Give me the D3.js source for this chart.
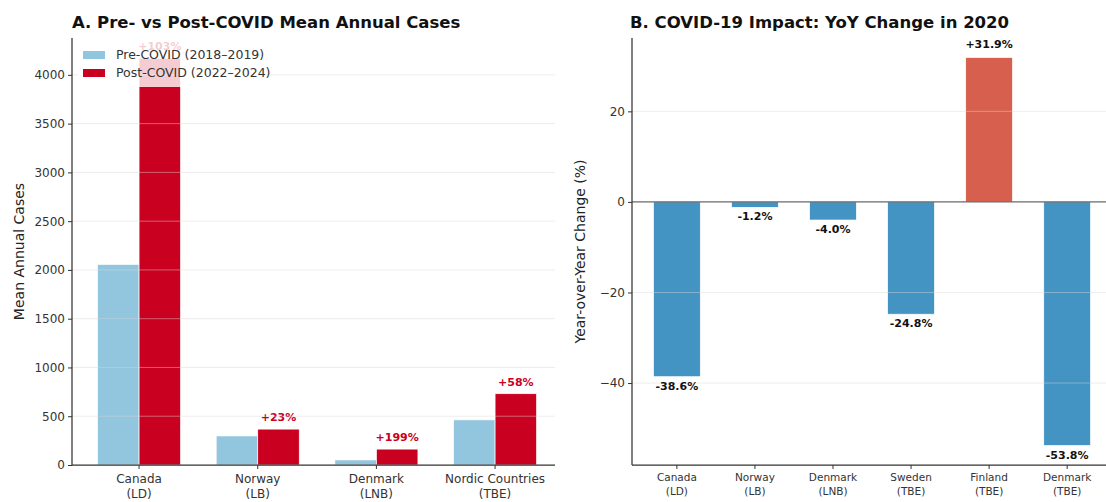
<!DOCTYPE html>
<html><head><meta charset="utf-8">
<script src="https://cdn.jsdelivr.net/npm/d3@7"></script>
<style>body{margin:0;background:#fff}svg{font-family:"DejaVu Sans",sans-serif}</style>
</head><body><svg id="c" width="1106" height="502"></svg>
<script>
const catsA = [["Canada","(LD)"],["Norway","(LB)"],["Denmark","(LNB)"],["Nordic Countries","(TBE)"]];
const preVals = [2057, 298, 52, 463];
const postVals = [4170, 368, 163, 731];
const pctLabels = ["+103%", "+23%", "+199%", "+58%"];
const ticksA = [0,500,1000,1500,2000,2500,3000,3500,4000];
const catsB = [["Canada","(LD)"],["Norway","(LB)"],["Denmark","(LNB)"],["Sweden","(TBE)"],["Finland","(TBE)"],["Denmark","(TBE)"]];
const yoyVals = [-38.6, -1.2, -4.0, -24.8, 31.9, -53.8];
const ticksB = [-40,-20,0,20];
const legendLabels = ["Pre-COVID (2018\u20132019)","Post-COVID (2022\u20132024)"];
const colPre = "#92c5de", colPost = "#ca0020", colNeg = "#4393c3", colPos = "#d6604d";

const svg = d3.select("#c");
const axisCol = "#333";
function fmtMinus(v){ return String(v).replace("-", "\u2212"); }

// ---------- Panel A ----------
const A = {l:72, r:555, t:38, b:465};
const xA = d3.scaleLinear().domain([-0.565, 3.505]).range([A.l, A.r]);
const yA = d3.scaleLinear().domain([0, 4378]).range([A.b, A.t]);
const gA = svg.append("g");
const bw = 0.35;
const unit = xA(1)-xA(0);
gA.selectAll("rect.pre").data(preVals).join("rect")
  .attr("x",(d,i)=>xA(i-bw)).attr("width",bw*unit)
  .attr("y",d=>yA(d)).attr("height",d=>yA(0)-yA(d))
  .attr("fill",colPre).attr("stroke","#fff").attr("stroke-width",0.7);
gA.selectAll("rect.post").data(postVals).join("rect")
  .attr("x",(d,i)=>xA(i)).attr("width",bw*unit)
  .attr("y",d=>yA(d)).attr("height",d=>yA(0)-yA(d))
  .attr("fill",colPost).attr("stroke","#fff").attr("stroke-width",0.7);
// pct labels
gA.selectAll("text.pct").data(postVals).join("text")
  .attr("x",(d,i)=>xA(i+bw/2)).attr("y",d=>yA(d)-8)
  .attr("text-anchor","middle").attr("font-size",11).attr("font-weight","bold")
  .attr("fill",colPost).text((d,i)=>pctLabels[i]);
// grid on top
gA.selectAll("line.grid").data(ticksA.slice(1)).join("line")
  .attr("x1",A.l).attr("x2",A.r).attr("y1",d=>yA(d)).attr("y2",d=>yA(d))
  .attr("stroke","#d8d8d8").attr("stroke-opacity",0.45).attr("stroke-width",1);
// y axis
const yAxA = d3.axisLeft(yA).tickValues(ticksA).tickSize(4).tickPadding(3).tickFormat(d=>d);
const gyA = gA.append("g").attr("transform",`translate(${A.l},0)`).call(yAxA);
gyA.select(".domain").attr("stroke",axisCol).attr("stroke-width",1.25).attr("d",`M0,${A.t}V${A.b}`);
gyA.selectAll(".tick line").attr("stroke",axisCol);
gyA.selectAll(".tick text").attr("font-size",12).attr("fill","#333").attr("font-family","DejaVu Sans");
// x axis
const gxA = gA.append("g");
gxA.append("line").attr("x1",A.l).attr("x2",A.r).attr("y1",A.b).attr("y2",A.b).attr("stroke",axisCol).attr("stroke-width",1.25);
catsA.forEach((c,i)=>{
  gxA.append("line").attr("x1",xA(i)).attr("x2",xA(i)).attr("y1",A.b).attr("y2",A.b+4).attr("stroke",axisCol);
  const t = gxA.append("text").attr("x",xA(i)).attr("y",A.b+18).attr("text-anchor","middle").attr("font-size",12).attr("fill","#333");
  t.append("tspan").attr("x",xA(i)).text(c[0]);
  t.append("tspan").attr("x",xA(i)).attr("dy",15).text(c[1]);
});
gA.append("text").attr("transform",`translate(24,${(A.t+A.b)/2}) rotate(-90)`).attr("text-anchor","middle")
  .attr("font-size",14).attr("fill","#222").text("Mean Annual Cases");
gA.append("text").attr("x",A.l).attr("y",28).attr("font-size",16.5).attr("font-weight","bold").attr("fill","#111")
  .text("A. Pre- vs Post-COVID Mean Annual Cases");
// legend
const lg = gA.append("g");
lg.append("rect").attr("x",A.l+6).attr("y",A.t+3).attr("width",190).attr("height",46).attr("fill","#fff").attr("fill-opacity",0.8);
legendLabels.forEach((s,i)=>{
  lg.append("rect").attr("x",83).attr("y",51+i*18).attr("width",22).attr("height",8).attr("fill",i?colPost:colPre);
  lg.append("text").attr("x",116).attr("y",59+i*18).attr("font-size",12.5).attr("fill","#333").text(s);
});

// ---------- Panel B ----------
const B = {l:632, r:1114, t:38, b:465};
const xB = d3.scaleLinear().domain([-0.575, 5.6]).range([B.l, B.r]);
const yB = d3.scaleLinear().domain([-58.1, 36.2]).range([B.b, B.t]);
const gB = svg.append("g");
const unitB = xB(1)-xB(0);
const bwB = 0.6;
gB.selectAll("rect.yoy").data(yoyVals).join("rect")
  .attr("x",(d,i)=>xB(i-bwB/2)).attr("width",bwB*unitB)
  .attr("y",d=>yB(Math.max(0,d))).attr("height",d=>Math.abs(yB(d)-yB(0)))
  .attr("fill",d=>d<0?colNeg:colPos).attr("stroke","#fff").attr("stroke-width",0.7);
gB.selectAll("line.grid").data(ticksB.filter(d=>d!==0)).join("line")
  .attr("x1",B.l).attr("x2",B.r).attr("y1",d=>yB(d)).attr("y2",d=>yB(d))
  .attr("stroke","#d8d8d8").attr("stroke-opacity",0.45);
gB.append("line").attr("x1",B.l).attr("x2",B.r).attr("y1",yB(0)).attr("y2",yB(0)).attr("stroke","#444").attr("stroke-width",1);
gB.selectAll("text.val").data(yoyVals).join("text")
  .attr("x",(d,i)=>xB(i)).attr("y",d=>d<0?yB(d)+13:yB(d)-9)
  .attr("text-anchor","middle").attr("font-size",11).attr("font-weight","bold").attr("fill","#111")
  .text(d=>(d>0?"+":"")+d.toFixed(1)+"%");
const yAxB = d3.axisLeft(yB).tickValues(ticksB).tickSize(4).tickPadding(3).tickFormat(d=>fmtMinus(d));
const gyB = gB.append("g").attr("transform",`translate(${B.l},0)`).call(yAxB);
gyB.select(".domain").attr("stroke",axisCol).attr("stroke-width",1.25).attr("d",`M0,${B.t}V${B.b}`);
gyB.selectAll(".tick line").attr("stroke",axisCol);
gyB.selectAll(".tick text").attr("font-size",12).attr("fill","#333").attr("font-family","DejaVu Sans");
const gxB = gB.append("g");
gxB.append("line").attr("x1",B.l).attr("x2",B.r).attr("y1",B.b).attr("y2",B.b).attr("stroke",axisCol).attr("stroke-width",1.25);
catsB.forEach((c,i)=>{
  gxB.append("line").attr("x1",xB(i)).attr("x2",xB(i)).attr("y1",B.b).attr("y2",B.b+4).attr("stroke",axisCol);
  const t = gxB.append("text").attr("x",xB(i)).attr("y",B.b+16).attr("text-anchor","middle").attr("font-size",10.5).attr("fill","#333");
  t.append("tspan").attr("x",xB(i)).text(c[0]);
  t.append("tspan").attr("x",xB(i)).attr("dy",14).text(c[1]);
});
gB.append("text").attr("transform",`translate(585,${(B.t+B.b)/2}) rotate(-90)`).attr("text-anchor","middle")
  .attr("font-size",14).attr("fill","#222").text("Year-over-Year Change (%)");
gB.append("text").attr("x",B.l-2).attr("y",28).attr("font-size",16.5).attr("font-weight","bold").attr("fill","#111")
  .text("B. COVID-19 Impact: YoY Change in 2020");
</script></body></html>
